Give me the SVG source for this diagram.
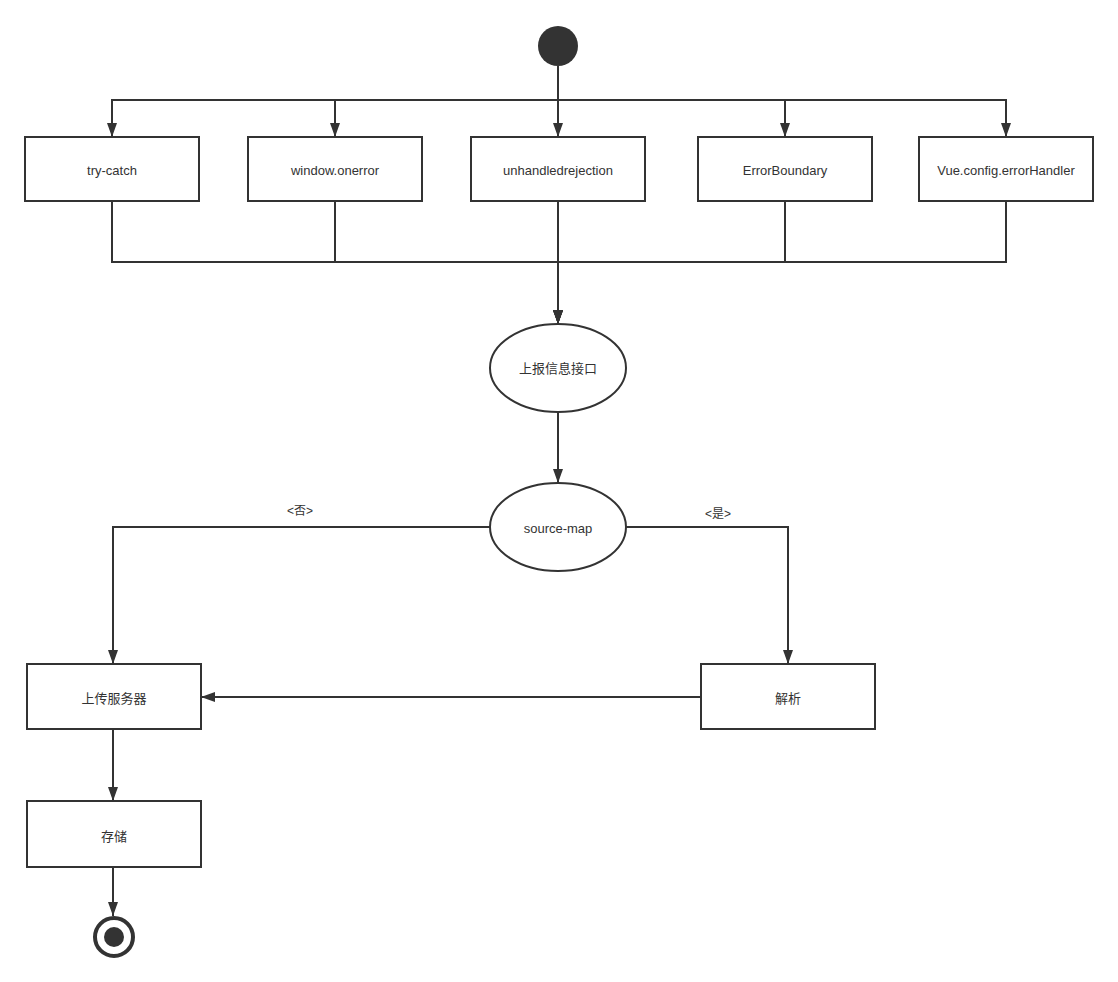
<svg xmlns="http://www.w3.org/2000/svg" width="1118" height="982" viewBox="0 0 1118 982">
<style>
.box{fill:#fff;stroke:#333;stroke-width:2}
.conn{fill:none;stroke:#333;stroke-width:2}
.t{font-family:"Liberation Sans","Noto Sans CJK SC",sans-serif;font-size:13px;fill:#333;text-anchor:middle;dominant-baseline:central}
.lbl{font-family:"Liberation Sans","Noto Sans CJK SC",sans-serif;font-size:12px;fill:#333;text-anchor:middle;dominant-baseline:central}
</style>
<defs>
<marker id="arr" viewBox="0 0 14 10" refX="14" refY="5" markerWidth="14" markerHeight="10" markerUnits="userSpaceOnUse" orient="auto">
<path d="M0,0 L14,5 L0,10 z" fill="#333"/>
</marker>
</defs>
<rect width="1118" height="982" fill="#fff"/>
<g id="connectors">
<path class="conn" marker-end="url(#arr)" d="M558,66 V100 H112 V137"/>
<path class="conn" marker-end="url(#arr)" d="M558,66 V100 H335 V137"/>
<path class="conn" marker-end="url(#arr)" d="M558,66 V137"/>
<path class="conn" marker-end="url(#arr)" d="M558,66 V100 H785 V137"/>
<path class="conn" marker-end="url(#arr)" d="M558,66 V100 H1006 V137"/>
<path class="conn" marker-end="url(#arr)" d="M112,201 V262 H558 V324"/>
<path class="conn" marker-end="url(#arr)" d="M335,201 V262 H558 V324"/>
<path class="conn" marker-end="url(#arr)" d="M558,201 V324"/>
<path class="conn" marker-end="url(#arr)" d="M785,201 V262 H558 V324"/>
<path class="conn" marker-end="url(#arr)" d="M1006,201 V262 H558 V324"/>
<path class="conn" marker-end="url(#arr)" d="M558,412 V483"/>
<path class="conn" marker-end="url(#arr)" d="M490,527 H113 V664"/>
<path class="conn" marker-end="url(#arr)" d="M626,527 H788 V664"/>
<path class="conn" marker-end="url(#arr)" d="M701,697 H201"/>
<path class="conn" marker-end="url(#arr)" d="M113,729 V801"/>
<path class="conn" marker-end="url(#arr)" d="M113,867 V916"/>
<text class="lbl" x="300" y="511">&lt;否&gt;</text>
<text class="lbl" x="718" y="514">&lt;是&gt;</text>
</g>
<g id="start"><circle cx="558" cy="46" r="20" fill="#333"/></g>
<g id="n-trycatch"><rect class="box" x="25" y="137" width="174" height="64"/><text class="t" x="112" y="170">try-catch</text></g>
<g id="n-onerror"><rect class="box" x="248" y="137" width="174" height="64"/><text class="t" x="335" y="170">window.onerror</text></g>
<g id="n-unhandled"><rect class="box" x="471" y="137" width="174" height="64"/><text class="t" x="558" y="170">unhandledrejection</text></g>
<g id="n-errorboundary"><rect class="box" x="698" y="137" width="174" height="64"/><text class="t" x="785" y="170">ErrorBoundary</text></g>
<g id="n-vue"><rect class="box" x="919" y="137" width="174" height="64"/><text class="t" x="1006" y="170">Vue.config.errorHandler</text></g>
<g id="n-report"><ellipse class="box" cx="558" cy="368" rx="68" ry="44"/><text class="t" x="558" y="368">上报信息接口</text></g>
<g id="n-sourcemap"><ellipse class="box" cx="558" cy="527" rx="68" ry="44"/><text class="t" x="558" y="528">source-map</text></g>
<g id="n-upload"><rect class="box" x="27" y="664" width="174" height="65"/><text class="t" x="114" y="698">上传服务器</text></g>
<g id="n-parse"><rect class="box" x="701" y="664" width="174" height="65"/><text class="t" x="788" y="698">解析</text></g>
<g id="n-store"><rect class="box" x="27" y="801" width="174" height="66"/><text class="t" x="114" y="836">存储</text></g>
<g id="end"><circle cx="114" cy="937" r="19" fill="#fff" stroke="#333" stroke-width="4"/><circle cx="114" cy="937" r="10" fill="#333"/></g>
</svg>
